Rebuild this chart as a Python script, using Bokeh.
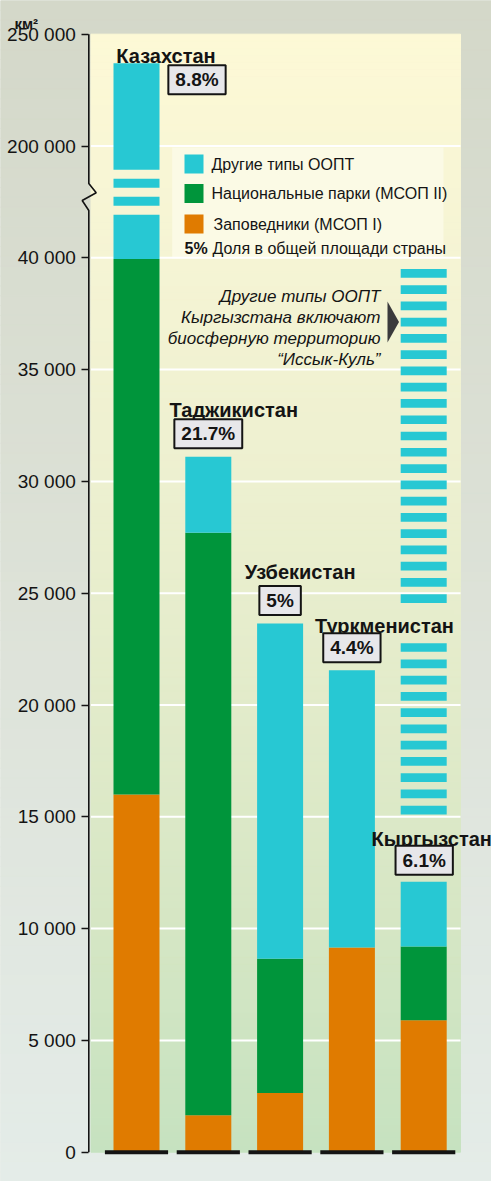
import numpy as np
from bokeh.plotting import figure
from bokeh.models import Range1d, LinearAxis, FixedTicker
from bokeh.core.properties import value
from bokeh.embed import file_html
from bokeh.resources import INLINE

# ---------------- data (km²) ----------------
countries = ["Казахстан", "Таджикистан", "Узбекистан", "Туркменистан", "Кыргызстан"]
zapovedniki = [16000, 1650, 2650, 9150, 5900]          # Заповедники (МСОП I)
national_parks = [23950, 26050, 6000, 0, 3300]         # Национальные парки (МСОП II)
other_types = [197050, 3400, 15000, 12400, 2900]       # Другие типы ООПТ
shares = ["8.8%", "21.7%", "5%", "4.4%", "6.1%"]       # доля в общей площади страны
issyk_kul_span = [15100, 39550]                        # Кыргызстан: «Иссык-Куль» (вне масштаба)
tick_values = [0, 5000, 10000, 15000, 20000, 25000, 30000, 35000, 40000, 200000, 250000]
tick_labels = ["0", "5 000", "10 000", "15 000", "20 000", "25 000", "30 000",
               "35 000", "40 000", "200 000", "250 000"]
legend_labels = ["Другие типы ООПТ", "Национальные парки (МСОП II)", "Заповедники (МСОП I)"]
share_legend = ["5%", "Доля в общей площади страны"]
note_lines = ["Другие типы ООПТ", "Кыргызстана включают", "биосферную территорию", "“Иссык-Куль”"]
unit_label = "км²"

# ---------------- broken axis transform ----------------
BREAK_LO, BREAK_HI, UPPER_SCALE, BREAK_SPAN = 40000, 200000, 10, 5000


def fwd(v):
    v = np.asarray(v, dtype=float)
    mid = BREAK_LO + (v - BREAK_LO) * (BREAK_SPAN / (BREAK_HI - BREAK_LO))
    up = BREAK_LO + BREAK_SPAN + (v - BREAK_HI) / UPPER_SCALE
    return np.where(v <= BREAK_LO, v, np.where(v >= BREAK_HI, up, mid))


# ---------------- layout (screen px helpers) ----------------
W, H = 491, 1181
Y0, PXU = 1151.7, 0.02236      # screen y of zero, px per axis unit
XC0, XSTEP = 136.0, 71.8       # screen x of first bar centre, px per category


def sx(X):
    return (X - XC0) / XSTEP


def sy(Y):
    return (Y0 - Y) / PXU


FONT = value("Liberation Sans")
C_OTHER, C_NP, C_Z = "#27c8d3", "#00953b", "#e07b00"
INK = "#141414"


def hex2rgb(h):
    return [int(h[i:i + 2], 16) for i in (1, 3, 5)]


def interp_colors(vals, stops):
    sv = [s[0] for s in stops]
    rgb = np.array([hex2rgb(s[1]) for s in stops], float)
    out = []
    for v in vals:
        c = [int(round(np.interp(v, sv, rgb[:, k]))) for k in range(3)]
        out.append("#%02x%02x%02x" % tuple(c))
    return out


p = figure(width=W, height=H, output_backend="svg", toolbar_location=None,
           x_range=Range1d(sx(0), sx(W)),
           y_range=Range1d(sy(H), sy(0)),
           x_axis_location=None, y_axis_location=None,
           min_border=0, min_border_left=0, min_border_right=0,
           min_border_top=0, min_border_bottom=0)
p.outline_line_color = None
p.background_fill_color = "#dde2d8"
p.border_fill_color = "#dde2d8"

# outer gradient background
outer_stops = [(sy(H), "#e4ece8"), (sy(600), "#dde2d8"), (sy(0), "#d4d8c9")]
oe = np.linspace(sy(H), sy(0), 121)
oc = interp_colors((oe[:-1] + oe[1:]) / 2, outer_stops)
p.quad(left=sx(0), right=sx(W), bottom=oe[:-1], top=oe[1:],
       fill_color=oc, line_color=oc, line_width=1)

# plot-area gradient background
plot_stops = [(0, "#c6e2c0"), (10000, "#d5e6c4"), (20000, "#e2ebca"),
              (30000, "#edf0d0"), (40000, "#f5f4d4"), (50000, "#fdf9d6")]
pe = np.linspace(0, float(fwd(250000)), 161)
pc = interp_colors((pe[:-1] + pe[1:]) / 2, plot_stops)
PL, PR = sx(90.5), sx(460)
p.quad(left=PL, right=PR, bottom=pe[:-1], top=pe[1:], fill_color=pc, line_color=pc, line_width=1)

# legend panel
p.quad(left=sx(171.7), right=sx(443), bottom=sy(258), top=sy(147),
       fill_color="#fbfae8", fill_alpha=0.85, line_color=None)

# grid lines
grid_y = [float(t) for t in fwd(tick_values)][1:-1]
p.segment(x0=PL, x1=PR, y0=grid_y, y1=grid_y, line_color="white", line_width=2)

# ---------------- bars ----------------
idx = np.arange(len(countries), dtype=float)
z = np.array(zapovedniki, float)
npk = np.array(national_parks, float)
ot = np.array(other_types, float)
BW = 46 / XSTEP

p.vbar(x=idx, width=BW, bottom=0, top=fwd(z), fill_color=C_Z, line_color=None)
p.vbar(x=idx, width=BW, bottom=fwd(z), top=fwd(z + npk), fill_color=C_NP, line_color=None)

# other types, interrupted where they cross the axis break
gap_px, first_gap_px = 9, 43
gaps = [(BREAK_LO + (first_gap_px + 2 * k * gap_px) / PXU,
         BREAK_LO + (first_gap_px + (2 * k + 1) * gap_px) / PXU) for k in range(3)]
ox, ob, otp = [], [], []
for i in range(len(countries)):
    b, t = float(fwd(z[i] + npk[i])), float(fwd(z[i] + npk[i] + ot[i]))
    cur = b
    for g0, g1 in gaps:
        if cur < g0 and t > g1:
            ox.append(idx[i]); ob.append(cur); otp.append(g0)
            cur = g1
    ox.append(idx[i]); ob.append(cur); otp.append(t)
p.vbar(x=ox, width=BW, bottom=ob, top=otp, fill_color=C_OTHER, line_color=None)

# Issyk-Kul striped extension (Kyrgyzstan)
kg = countries.index("Кыргызстан")
per, sh = 16.27 / PXU, 8.7 / PXU
sb = []
b = issyk_kul_span[0]
while b + sh <= issyk_kul_span[1] + 1:
    sb.append(b)
    b += per
sb = np.array(sb)
p.vbar(x=kg, width=BW, bottom=sb, top=sb + sh, fill_color=C_OTHER, line_color=None)

# base strokes under bars
p.segment(x0=idx - 0.44, x1=idx + 0.44, y0=0, y1=0, line_color=INK, line_width=4, line_cap="butt")

# ---------------- axis ----------------
AX = sx(88.3)
tpos = [int(round(float(t))) for t in fwd(tick_values)]
yaxis = LinearAxis(fixed_location=AX, bounds=(0, tpos[-1]),
                   ticker=FixedTicker(ticks=tpos),
                   major_label_overrides={t: lab for t, lab in zip(tpos, tick_labels)},
                   axis_line_color=None,
                   major_tick_out=7, major_tick_in=0,
                   major_tick_line_width=1.5, major_tick_line_color=INK,
                   minor_tick_line_color=None,
                   major_label_text_font="Liberation Sans",
                   major_label_text_font_size="19px",
                   major_label_text_color=INK,
                   major_label_standoff=6)
p.add_layout(yaxis, "left")

# axis line with zig-zag break
zx = [AX, AX, sx(81.7), sx(95.7), AX, AX]
zy = [0, sy(210), sy(200), sy(192.3), sy(183), tpos[-1]]
p.line(x=zx, y=zy, line_color=INK, line_width=1.6)

# ---------------- labels ----------------
tot = fwd(z + npk + ot)
name_dx = [29.5, 25.5, 20, 32.5, 8]
name_dy = [-7, -47, -51, -47, -43]
tk = countries.index("Туркменистан")
others = [i for i in range(len(countries)) if i != tk]
p.text(x=[idx[i] for i in others], y=[tot[i] for i in others],
       text=[countries[i] for i in others],
       x_offset=[name_dx[i] for i in others], y_offset=[name_dy[i] for i in others],
       text_align="center", text_baseline="alphabetic", text_font=FONT,
       text_font_style="bold", text_font_size="20px", text_color=INK)
bgc = interp_colors([float(tot[tk]) + 47 / PXU], plot_stops)[0]
p.text(x=[idx[tk]], y=[tot[tk]], text=[countries[tk]], x_offset=name_dx[tk], y_offset=name_dy[tk],
       text_align="center", text_baseline="alphabetic", text_font=FONT,
       text_font_style="bold", text_font_size="20px", text_color=INK,
       background_fill_color=bgc, padding=dict(left=0, right=0, top=5, bottom=0))

pct_dx = [60.5, 0, 0, 0, 0.5]
pct_dy = [16.5, -23, -23, -22.5, -21.5]
p.text(x=idx, y=tot, text=shares, x_offset=pct_dx, y_offset=pct_dy,
       text_align="center", text_baseline="middle", text_font=FONT,
       text_font_style="bold", text_font_size="19px", text_color=INK,
       background_fill_color="#e7e7ea", border_line_color=INK, border_line_width=2,
       padding=dict(left=7, right=7, top=4, bottom=4))

# legend
leg_y = [sy(163.5), sy(193), sy(223.5)]
p.scatter(x=sx(193.5), y=leg_y, marker="square", size=19,
          fill_color=[C_OTHER, C_NP, C_Z], line_color=None)
p.text(x=[sx(211), sx(211), sx(213)], y=leg_y, text=legend_labels,
       text_align="left", text_baseline="middle", text_font=FONT,
       text_font_size="16px", text_color=INK)
p.text(x=[sx(184)], y=[sy(248)], text=[share_legend[0]], text_align="left",
       text_baseline="middle", text_font=FONT, text_font_style="bold",
       text_font_size="16px", text_color=INK)
p.text(x=[sx(212)], y=[sy(248)], text=[share_legend[1]], text_align="left",
       text_baseline="middle", text_font=FONT, text_font_size="16px", text_color=INK)

# note about Issyk-Kul
p.text(x=sx(380), y=[sy(296 + 21 * i) for i in range(len(note_lines))], text=note_lines,
       text_align="right", text_baseline="alphabetic", text_font=FONT,
       text_font_style="italic", text_font_size="17px", text_color=INK)
p.patch(x=[sx(387), sx(398.5), sx(387)], y=[sy(301), sy(321.5), sy(342)],
        fill_color="#3a3a3c", line_color=None)

# unit
p.text(x=[sx(14)], y=[sy(23)], text=[unit_label], text_align="left", text_baseline="alphabetic",
       text_font=FONT, text_font_style="bold", text_font_size="15px", text_color=INK)

open("out.html", "w").write(file_html(p, INLINE))
